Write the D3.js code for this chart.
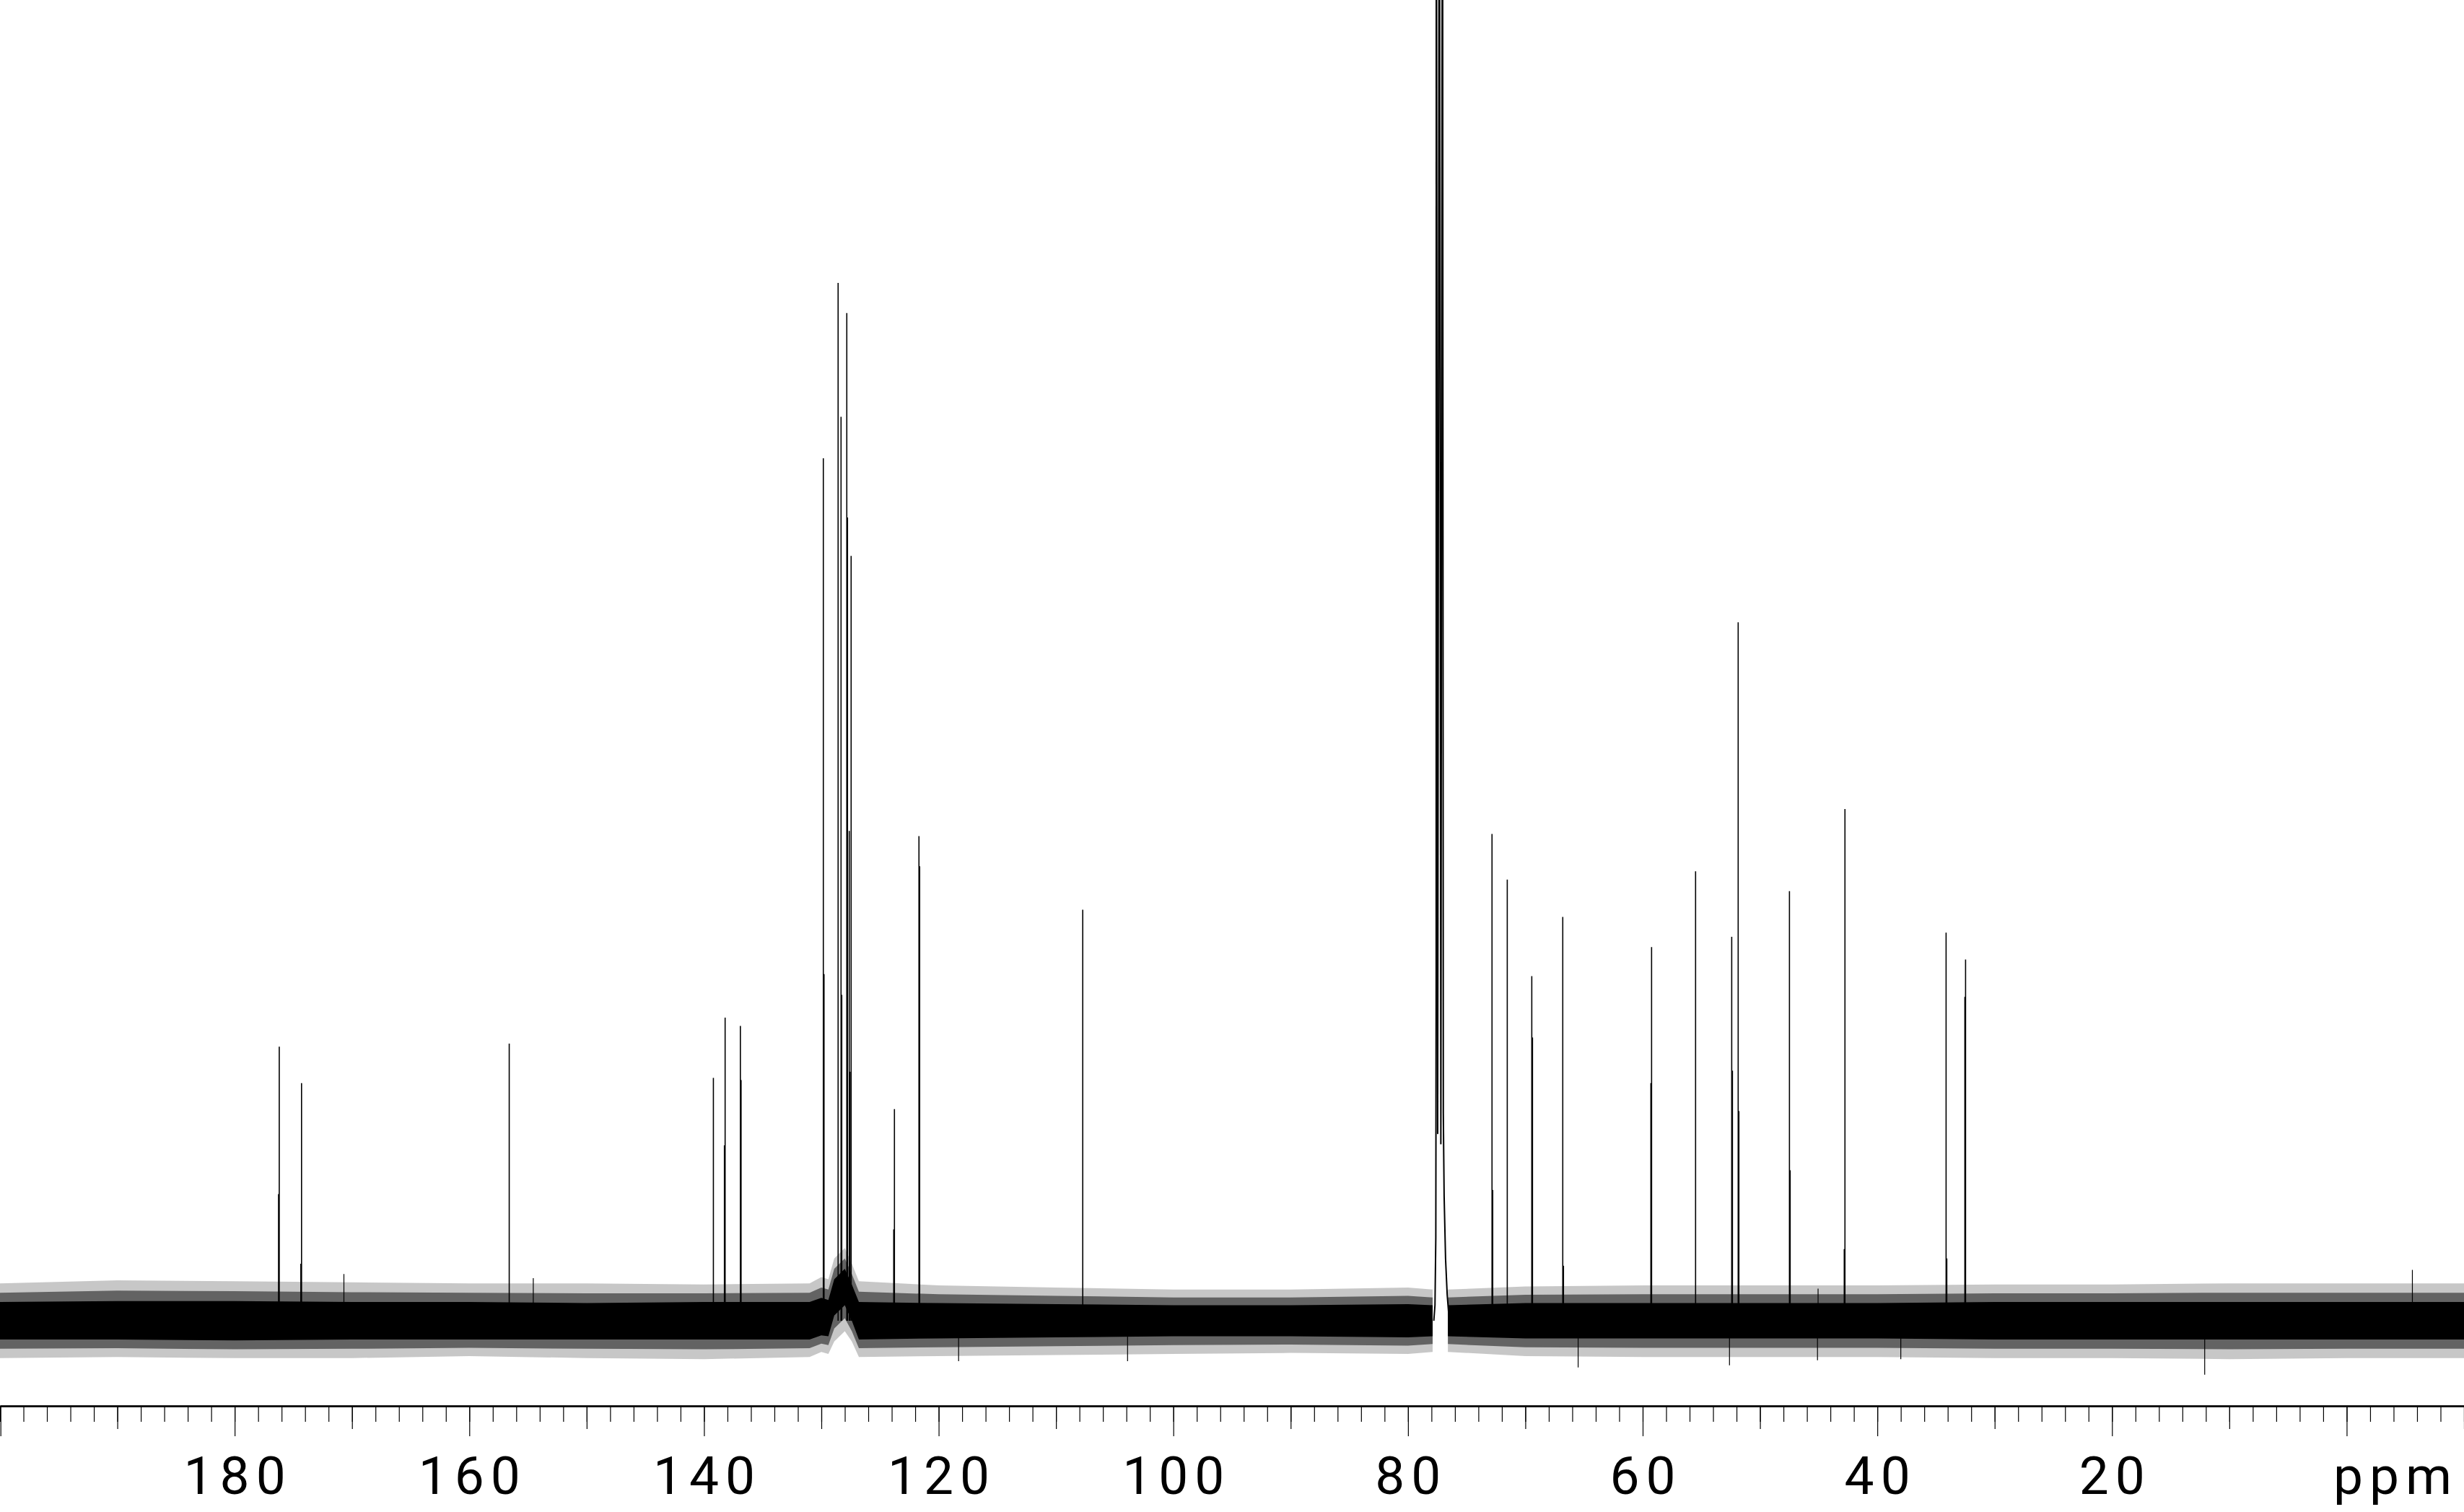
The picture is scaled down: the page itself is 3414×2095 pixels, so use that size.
<!DOCTYPE html>
<html><head><meta charset="utf-8">
<script src="https://cdn.jsdelivr.net/npm/d3@7"></script>
<style>html,body{margin:0;padding:0;background:#fff;overflow:hidden}svg{display:block}</style>
</head><body>
<svg id="chart" width="3414" height="2095"></svg>
<script>
// ---- data (ppm, relative intensity; tallest non-solvent line = 100) ----
const peakPpm       = [176.20,174.30,156.60,139.20,138.20,136.90,129.83,128.57,128.32,127.83,127.77,127.62,127.55,127.46,123.77,121.68,107.72,72.84,71.54,69.45,66.81,59.24,55.49,52.41,51.86,47.49,42.76,34.14,32.48];
const peakIntensity = [ 26.4, 22.9, 26.7, 23.4, 29.2, 28.4, 83.1,100.0, 87.1, 97.1, 77.4, 47.2, 24.0, 73.7, 20.4, 46.7, 39.6, 46.9, 42.5, 33.2, 38.9, 36.0, 43.3, 37.0, 67.3, 41.4, 49.3, 37.4, 34.8];
const shoulderPpm       = [176.26,174.36,138.26,136.84,129.77,128.26,123.83,121.62,72.78,69.39,66.75,59.30,52.35,51.80,47.43,42.82,34.08,32.54];
const shoulderIntensity = [ 12.2,  5.5, 16.9, 23.2, 33.4, 31.4,  8.8, 43.8, 12.6, 27.3,  5.3, 22.9, 24.1, 20.2, 14.5,  6.9,  6.0, 31.2];
// CDCl3 solvent triplet outline
const solventPpm       = [77.80,77.70,77.63,77.60,77.59,77.47,77.33,77.20,77.06,76.99,76.92,76.80,76.66,76.52,76.40];
const solventIntensity = [  0.0,  1.5,  8.0, 34.0,160.0, 18.0,160.0, 17.0,160.0, 20.0, 12.0,  6.0,  2.5,  0.5,  0.0];
// noise band: [ppm, outer top, core top, core bottom, outer bottom]
const noiseBand = [
  [200.0,3.6,1.8,-1.8,-3.6],[190.0,3.9,1.9,-1.8,-3.5],[180.0,3.8,1.9,-1.9,-3.6],
  [170.0,3.7,1.8,-1.8,-3.6],[160.0,3.6,1.8,-1.8,-3.4],[150.0,3.6,1.7,-1.8,-3.6],
  [140.0,3.5,1.8,-1.8,-3.7],[131.0,3.6,1.8,-1.8,-3.5],[130.0,4.2,2.2,-1.4,-3.0],
  [129.4,4.0,2.0,-1.5,-3.2],[128.9,6.0,4.0,0.5,-2.0],[128.0,7.0,5.0,1.5,-1.0],
  [127.4,5.5,3.5,0.0,-2.0],[126.8,3.8,1.8,-1.8,-3.5],[120.0,3.4,1.7,-1.7,-3.4],
  [110.0,3.2,1.6,-1.6,-3.3],[100.0,3.0,1.5,-1.5,-3.2],[90.0,3.0,1.5,-1.5,-3.1],
  [80.0,3.2,1.6,-1.6,-3.2],[77.9,3.0,1.5,-1.5,-3.0],[77.8,null,null,null,null],
  [76.6,3.0,1.5,-1.5,-3.0],[70.0,3.3,1.7,-1.7,-3.4],[60.0,3.4,1.7,-1.7,-3.5],
  [50.0,3.4,1.7,-1.7,-3.5],[40.0,3.4,1.7,-1.7,-3.5],[30.0,3.5,1.8,-1.8,-3.6],
  [20.0,3.5,1.8,-1.8,-3.6],[10.0,3.6,1.8,-1.8,-3.7],[0.0,3.6,1.8,-1.8,-3.6],
  [-10.0,3.6,1.8,-1.8,-3.6]
];
const noiseSpikePpm       = [170.69,154.55,118.3,103.9,65.5,52.6,45.1,45.05,38.0,12.1,-5.6];
const noiseSpikeIntensity = [  4.5,   4.1, -3.9, -3.9,-4.5,-4.3,-3.8,  3.1,-3.7,-5.2, 4.9];
const majorTicks = [200,180,160,140,120,100,80,60,40,20,0];
const tickLabels = ["180","160","140","120","100","80","60","40","20"];
const tickLabelValues = [180,160,140,120,100,80,60,40,20];
const unitLabel = "ppm";

// ---- scales ----
const W = 3414, H = 2095;
const x = d3.scaleLinear().domain([200, -10]).range([0, W]);
const y = d3.scaleLinear().domain([0, 100]).range([1830, 392]);
const svg = d3.select("#chart");

// noise band layers (outer fuzz, mid fuzz, dense core)
const defined = d => d[1] !== null;
const outer = d3.area().defined(defined).x(d => x(d[0])).y0(d => y(d[4])).y1(d => y(d[1]));
const mid   = d3.area().defined(defined).x(d => x(d[0]))
  .y0(d => (y(d[4]) + y(d[3])) / 2).y1(d => (y(d[1]) + y(d[2])) / 2);
const core  = d3.area().defined(defined).x(d => x(d[0])).y0(d => y(d[3])).y1(d => y(d[2]));
svg.append("path").attr("d", outer(noiseBand)).attr("fill", "#000").attr("fill-opacity", 0.22);
svg.append("path").attr("d", mid(noiseBand)).attr("fill", "#000").attr("fill-opacity", 0.5);
svg.append("path").attr("d", core(noiseBand)).attr("fill", "#000");

// spikes in noise
svg.append("g").selectAll("line").data(noiseSpikePpm).join("line")
  .attr("x1", d => x(d)).attr("x2", d => x(d))
  .attr("y1", y(0)).attr("y2", (d, i) => y(noiseSpikeIntensity[i]))
  .attr("stroke", "#000").attr("stroke-width", 1.2);

// shoulders (adjacent sample columns)
svg.append("g").selectAll("line").data(shoulderPpm).join("line")
  .attr("x1", d => x(d)).attr("x2", d => x(d))
  .attr("y1", y(0)).attr("y2", (d, i) => y(shoulderIntensity[i]))
  .attr("stroke", "#000").attr("stroke-width", 1.6);

// peaks
svg.append("g").selectAll("line").data(peakPpm).join("line")
  .attr("x1", d => x(d)).attr("x2", d => x(d))
  .attr("y1", y(0)).attr("y2", (d, i) => y(peakIntensity[i]))
  .attr("stroke", "#000").attr("stroke-width", 1.6);

// solvent
const solvent = solventPpm.map((p, i) => [p, solventIntensity[i]]);
svg.append("path").attr("d", d3.line().x(d => x(d[0])).y(d => y(d[1]))(solvent))
  .attr("fill", "none").attr("stroke", "#000").attr("stroke-width", 2);

// axis
const axisY = 1948;
const gAx = svg.append("g").attr("transform", `translate(0,${axisY})`);
const mk = (vals, size) => {
  const a = d3.axisBottom(x).tickValues(vals).tickSize(size).tickSizeOuter(0).tickFormat("");
  const g = gAx.append("g").call(a);
  g.selectAll("line").attr("stroke", "#000").attr("stroke-width", 1.2);
  g.select(".domain").attr("stroke", "#000").attr("stroke-width", 2);
  return g;
};
mk(d3.range(-10, 201, 2), 22);
mk(d3.range(-10, 200, 20), 32);
const gm = mk(majorTicks, 42);
gm.selectAll(".tick line").attr("transform", d => d === 200 ? "translate(0.7,0)" : null);

// tick labels
svg.append("g").selectAll("text").data(tickLabelValues).join("text")
  .attr("x", d => x(d) + 4.5).attr("y", 2070)
  .attr("text-anchor", "middle")
  .attr("font-family", "Roboto, 'DejaVu Sans', sans-serif")
  .attr("font-size", 73).attr("letter-spacing", 9).attr("fill", "#000")
  .text((d, i) => tickLabels[i]);
svg.append("text").attr("x", 3315 + 4.5).attr("y", 2070).attr("text-anchor", "middle")
  .attr("font-family", "Roboto, 'DejaVu Sans', sans-serif")
  .attr("font-size", 73).attr("letter-spacing", 9).attr("fill", "#000").text(unitLabel);
</script>
</body></html>
